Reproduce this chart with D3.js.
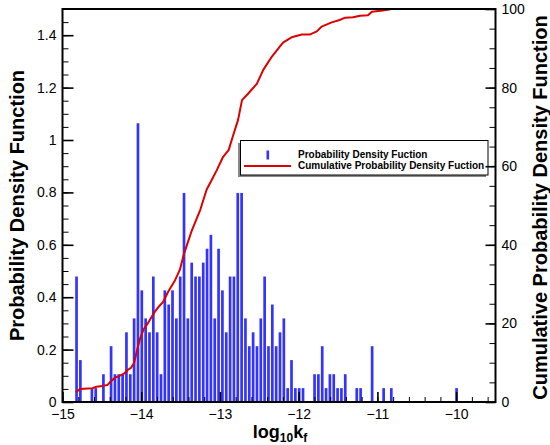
<!DOCTYPE html>
<html>
<head>
<meta charset="utf-8">
<script src="https://cdn.jsdelivr.net/npm/d3@7"></script>
<style>
  body { margin: 0; background: #fff; }
  svg { display: block; font-family: "Liberation Sans", Arial, sans-serif; }
</style>
</head>
<body>
<svg id="chart"></svg>
<script>
// histogram: 100 equal bins, density per bin
const binStart = -14.846;
const binWidth = 0.04876;
const pdfValues = [
  0.479, 0.160, 0, 0, 0.053, 0.053, 0, 0.106, 0, 0.213,
  0.106, 0.106, 0.106, 0.266, 0.106, 0.319, 1.064, 0.426, 0.319, 0.266,
  0.479, 0.266, 0.106, 0.426, 0.372, 0.426, 0.319, 0.479, 0.798, 0.319,
  0.532, 0.479, 0.479, 0.532, 0.585, 0.638, 0.319, 0.585, 0.426, 0.266,
  0.479, 0.479, 0.798, 0.798, 0.319, 0.213, 0.266, 0.213, 0.319, 0.479,
  0.213, 0.372, 0.213, 0.266, 0.319, 0.053, 0.160, 0.053, 0.053, 0.053,
  0, 0, 0.106, 0.106, 0.213, 0.053, 0.106, 0.106, 0.053, 0.053,
  0.106, 0, 0, 0.053, 0.053, 0, 0, 0.213, 0, 0,
  0.053, 0, 0.053, 0, 0, 0, 0, 0, 0, 0,
  0, 0, 0, 0, 0, 0, 0, 0, 0, 0.053
];

// cumulative curve (percent)
const cdfX = [
  -14.829, -14.78, -14.62, -14.57, -14.49, -14.43, -14.39, -14.33, -14.27, -14.22,
  -14.17, -14.13, -14.09, -14.05, -14.01, -13.97, -13.91, -13.84, -13.78, -13.72,
  -13.66, -13.57, -13.51, -13.46, -13.41, -13.36, -13.25, -13.17, -13.105, -13.04,
  -12.96, -12.89, -12.83, -12.77, -12.72, -12.64, -12.53, -12.45, -12.34, -12.24,
  -12.195, -12.09, -11.96, -11.86, -11.77, -11.71, -11.58, -11.48, -11.41, -11.31,
  -11.22, -11.12, -11.07, -10.93, -10.82, -10.04
];
const cdfY = [
  2.4, 3.3, 3.5, 3.9, 4.1, 4.3, 5.2, 6.2, 6.7, 7.2,
  8.2, 8.7, 9.9, 13.5, 16.4, 18.5, 20.2, 22.6, 24.2, 25.5,
  28.0, 31.0, 33.6, 37.5, 40.5, 43.5, 48.9, 54.0, 56.5, 59.0,
  62.4, 64.1, 68.0, 71.8, 76.8, 78.5, 81.0, 84.5, 87.9, 90.4,
  91.5, 92.8, 93.5, 93.5, 94.3, 95.5, 96.6, 97.2, 97.8, 97.9,
  98.3, 98.4, 99.3, 99.6, 100, 100
];

const xTicks = [-15, -14, -13, -12, -11, -10];
const yLeftTicks = [0, 0.2, 0.4, 0.6, 0.8, 1, 1.2, 1.4];
const yRightTicks = [0, 20, 40, 60, 80, 100];

const legendLabels = ["Probability Density Fuction", "Cumulative Probability Density Fuction"];

const width = 550, height = 445;
const margin = {top: 9, right: 54.5, bottom: 43, left: 62.5};

const svg = d3.select("#chart").attr("width", width).attr("height", height);

const x = d3.scaleLinear().domain([-15, -9.5]).range([margin.left, width - margin.right]);
const yL = d3.scaleLinear().domain([0, 1.5]).range([height - margin.bottom, margin.top]);
const yR = d3.scaleLinear().domain([0, 100]).range([height - margin.bottom, margin.top]);

const bins = pdfValues.map((v, i) => ({x0: binStart + i * binWidth, x1: binStart + (i + 1) * binWidth, v: v}))
  .filter(d => d.v > 0);

const binPx = x(binStart + binWidth) - x(binStart);
const barW = binPx * 0.7;

svg.append("g")
  .selectAll("rect")
  .data(bins)
  .enter()
  .append("rect")
  .attr("x", d => (x(d.x0) + x(d.x1)) / 2 - barW / 2)
  .attr("y", d => yL(d.v))
  .attr("width", barW)
  .attr("height", d => yL(0) - yL(d.v))
  .attr("fill", "#3333ff");

const line = d3.line()
  .x(d => x(d[0]))
  .y(d => yR(d[1]));

svg.append("path")
  .datum(cdfX.map((v, i) => [v, cdfY[i]]))
  .attr("d", line)
  .attr("fill", "none")
  .attr("stroke", "#dd0000")
  .attr("stroke-width", 2)
  .attr("stroke-linejoin", "round");

// legend
const lg = svg.append("g");
lg.append("rect")
  .attr("x", 238).attr("y", 143)
  .attr("width", 248).attr("height", 34)
  .attr("fill", "#888");
lg.append("rect")
  .attr("x", 240.5).attr("y", 140.5)
  .attr("width", 247.5).attr("height", 34.5)
  .attr("fill", "#fff")
  .attr("stroke", "#000")
  .attr("stroke-width", 1);
lg.append("rect")
  .attr("x", 266.5).attr("y", 150.5)
  .attr("width", 2.6).attr("height", 9)
  .attr("fill", "#3333ff");
lg.append("line")
  .attr("x1", 244).attr("x2", 291)
  .attr("y1", 166).attr("y2", 166)
  .attr("stroke", "#dd0000")
  .attr("stroke-width", 2);
lg.selectAll("text")
  .data(legendLabels)
  .enter()
  .append("text")
  .attr("x", 298)
  .attr("y", (d, i) => 158 + i * 11)
  .style("font-size", "10px")
  .style("font-weight", "bold")
  .text(d => d);

// axes
const xMajor = d3.axisBottom(x).tickValues(xTicks).tickSize(-10).tickPadding(7).tickFormat(d3.format("d"));
const xMinor = d3.axisBottom(x).tickValues(d3.range(-15, -9.5, 0.2)).tickSize(-5).tickFormat("");
const lMajor = d3.axisLeft(yL).tickValues(yLeftTicks).tickSize(-11).tickPadding(6).tickFormat(d => d3.format("")(+d.toFixed(1)));
const lMinor = d3.axisLeft(yL).tickValues(d3.range(0, 1.5001, 0.05)).tickSize(-6).tickFormat("");
const rMajor = d3.axisRight(yR).tickValues(yRightTicks).tickSize(-10).tickPadding(6);
const rMinor = d3.axisRight(yR).tickValues(d3.range(0, 100.1, 5)).tickSize(-6).tickFormat("");

function place(axis, tx, ty, cls) {
  const g = svg.append("g").attr("transform", `translate(${tx},${ty})`).call(axis);
  g.select(".domain").remove();
  g.selectAll("line").attr("stroke", "#000").attr("stroke-width", cls === "minor" ? 1 : 1.6);
  g.selectAll("text").style("font-size", "14px").attr("fill", "#000");
  return g;
}

const bottom = height - margin.bottom;
const right = width - margin.right;
place(xMinor, 0, bottom, "minor");
place(xMajor, 0, bottom, "major");
place(lMinor, margin.left, 0, "minor");
place(lMajor, margin.left, 0, "major");
place(rMinor, right, 0, "minor");
place(rMajor, right, 0, "major");

svg.append("rect")
  .attr("x", margin.left).attr("y", margin.top)
  .attr("width", right - margin.left).attr("height", bottom - margin.top)
  .attr("fill", "none")
  .attr("stroke", "#000")
  .attr("stroke-width", 2);

// titles
const xt = svg.append("text")
  .attr("x", 280).attr("y", 438)
  .attr("text-anchor", "middle")
  .style("font-size", "18px")
  .style("font-weight", "bold");
xt.append("tspan").text("log");
xt.append("tspan").attr("dy", 4).style("font-size", "12px").text("10");
xt.append("tspan").attr("dy", -4).text("k");
xt.append("tspan").attr("dy", 4).style("font-size", "12px").text("f");

svg.append("text")
  .attr("transform", `translate(24, ${(margin.top + bottom) / 2}) rotate(-90)`)
  .attr("text-anchor", "middle")
  .style("font-size", "20px")
  .style("font-weight", "bold")
  .text("Probability Density Function");

svg.append("text")
  .attr("transform", `translate(547, ${(margin.top + bottom) / 2 + 2}) rotate(-90)`)
  .attr("text-anchor", "middle")
  .style("font-size", "20px")
  .style("font-weight", "bold")
  .text("Cumulative Probability Density Function");
</script>
</body>
</html>
